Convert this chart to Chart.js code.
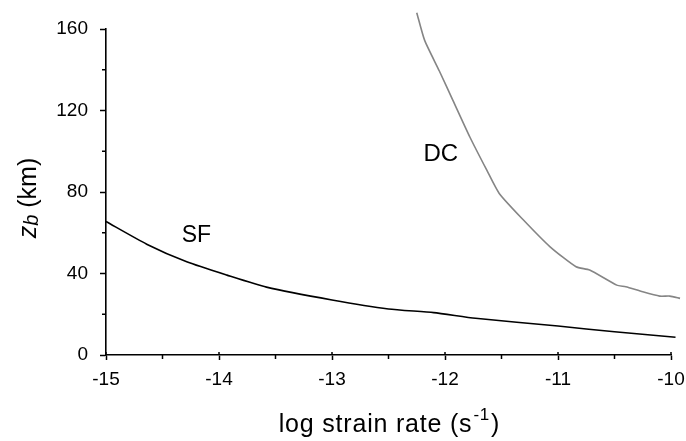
<!doctype html>
<html lang="en">
<head>
    <title>Breakdown depth vs strain rate</title>
    <meta charset="utf-8">
    <script src="https://cdn.jsdelivr.net/npm/chart.js@4.4.0/dist/chart.umd.min.js"></script>
    <style>
        body { margin: 0; background: #fff; }
    </style>
</head>
<body>
<canvas id="depthChart" width="686" height="441"></canvas>
<script>
    // SF curve (black)
    const sfX = [-15, -14.64, -14.28, -13.93, -13.58, -13.0, -12.5, -12.1, -11.73, -11.0, -10.5, -9.96];
    const sfY = [65.5, 54.4, 45.6, 39.2, 33.3, 27.0, 22.6, 20.8, 18.0, 14.2, 11.4, 8.7];
    // DC curve (grey)
    const dcX = [-12.25, -12.18, -12.05, -11.93, -11.78, -11.63, -11.52, -11.31, -11.07, -10.84, -10.72, -10.48, -10.4, -10.25, -10.1, -10.01, -9.92];
    const dcY = [168, 154.4, 139.4, 125, 107, 90.7, 79.3, 66.5, 53.1, 43.3, 41.7, 34.3, 33.5, 31, 28.9, 28.9, 27.8];

    const yTicks = [0, 40, 80, 120, 160];
    const xTicks = [-15, -14, -13, -12, -11, -10];

    const FONT = '"Liberation Sans", Arial, Helvetica, sans-serif';

    function toPoints(xs, ys) {
        return xs.map((x, i) => ({x: x, y: ys[i]}));
    }

    // minor ticks, axis titles and curve labels
    const decorations = {
        id: 'decorations',
        afterDraw(chart) {
            const ctx = chart.ctx;
            const xs = chart.scales.x;
            const ys = chart.scales.y;
            const area = chart.chartArea;
            ctx.save();
            ctx.strokeStyle = '#000';
            ctx.lineWidth = 1.5;
            // minor ticks
            for (let v = 20; v < 160; v += 40) {
                let py = ys.getPixelForValue(v);
                ctx.beginPath();
                ctx.moveTo(area.left - 4, py);
                ctx.lineTo(area.left, py);
                ctx.stroke();
            }
            for (let v = -14.5; v < -10; v += 1) {
                let px = xs.getPixelForValue(v);
                ctx.beginPath();
                ctx.moveTo(px, area.bottom);
                ctx.lineTo(px, area.bottom + 4);
                ctx.stroke();
            }
            // major x ticks poke a little above the axis
            xTicks.forEach(v => {
                let px = xs.getPixelForValue(v);
                ctx.beginPath();
                ctx.moveTo(px, area.bottom - 3);
                ctx.lineTo(px, area.bottom);
                ctx.stroke();
            });

            ctx.fillStyle = '#000';
            ctx.textBaseline = 'alphabetic';

            // x title: log strain rate (s^-1)
            ctx.letterSpacing = '0.8px';
            ctx.font = '25px ' + FONT;
            let part1 = 'log strain rate (s';
            let part3 = ')';
            let w1 = ctx.measureText(part1).width;
            let w3 = ctx.measureText(part3).width;
            ctx.font = '17px ' + FONT;
            let w2 = ctx.measureText('-1').width;
            let startX = (area.left + area.right) / 2 - (w1 + w2 + w3) / 2;
            let baseY = 432;
            ctx.font = '25px ' + FONT;
            ctx.fillText(part1, startX, baseY);
            ctx.font = '17px ' + FONT;
            ctx.fillText('-1', startX + w1 + 1, baseY - 12);
            ctx.font = '25px ' + FONT;
            ctx.fillText(part3, startX + w1 + w2 + 2, baseY);

            // y title: zb (km), rotated
            ctx.letterSpacing = '0px';
            ctx.save();
            ctx.translate(36, 198);
            ctx.rotate(-Math.PI / 2);
            ctx.font = 'italic 25px ' + FONT;
            let wz = ctx.measureText('z').width;
            ctx.font = 'italic 20px ' + FONT;
            let wb = ctx.measureText('b').width;
            ctx.font = '25px ' + FONT;
            let wk = ctx.measureText(' (km)').width;
            let sx = -(wz + wb + wk) / 2;
            ctx.font = 'italic 25px ' + FONT;
            ctx.fillText('z', sx, 0);
            ctx.font = 'italic 20px ' + FONT;
            ctx.fillText('b', sx + wz, 2);
            ctx.font = '25px ' + FONT;
            ctx.fillText(' (km)', sx + wz + wb, 0);
            ctx.restore();

            // curve labels
            ctx.font = '23px ' + FONT;
            ctx.fillText('SF', xs.getPixelForValue(-14.33), ys.getPixelForValue(55.4));
            ctx.font = '24px ' + FONT;
            ctx.fillText('DC', xs.getPixelForValue(-12.19), ys.getPixelForValue(95));
            ctx.restore();
        }
    };

    const ctx = document.getElementById('depthChart').getContext('2d');
    const chart = new Chart(ctx, {
        type: 'scatter',
        data: {
            datasets: [{
                label: 'SF',
                data: toPoints(sfX, sfY),
                showLine: true,
                borderColor: '#000',
                borderWidth: 1.6,
                pointRadius: 0,
                tension: 0.2,
                clip: false
            }, {
                label: 'DC',
                data: toPoints(dcX, dcY),
                showLine: true,
                borderColor: '#858585',
                borderWidth: 1.6,
                pointRadius: 0,
                tension: 0.2,
                clip: false
            }]
        },
        options: {
            responsive: false,
            animation: false,
            layout: {padding: {top: 29, right: 15, left: 0, bottom: 0}},
            plugins: {
                legend: {display: false},
                tooltip: {enabled: false}
            },
            scales: {
                x: {
                    type: 'linear',
                    min: -15,
                    max: -10,
                    afterBuildTicks: scale => {
                        scale.ticks = xTicks.map(v => ({value: v}));
                    },
                    afterFit: scale => {
                        scale.height = 86;
                        scale.paddingLeft = 0;
                        scale.paddingRight = 0;
                    },
                    ticks: {
                        color: '#000',
                        font: {family: FONT, size: 19},
                        padding: 8,
                        maxRotation: 0,
                        callback: v => String(v)
                    },
                    grid: {
                        drawOnChartArea: false,
                        drawTicks: true,
                        tickLength: 5,
                        tickColor: '#000',
                        tickWidth: 1.5
                    },
                    border: {color: '#000', width: 1.6}
                },
                y: {
                    type: 'linear',
                    min: 0,
                    max: 160,
                    afterBuildTicks: scale => {
                        scale.ticks = yTicks.map(v => ({value: v}));
                    },
                    afterFit: scale => { scale.width = 106; },
                    ticks: {
                        color: '#000',
                        font: {family: FONT, size: 19},
                        padding: 12,
                        callback: v => String(v)
                    },
                    grid: {
                        drawOnChartArea: false,
                        drawTicks: true,
                        tickLength: 6,
                        tickColor: '#000',
                        tickWidth: 1.5
                    },
                    border: {color: '#000', width: 1.6}
                }
            }
        },
        plugins: [decorations]
    });
</script>
</body>
</html>
